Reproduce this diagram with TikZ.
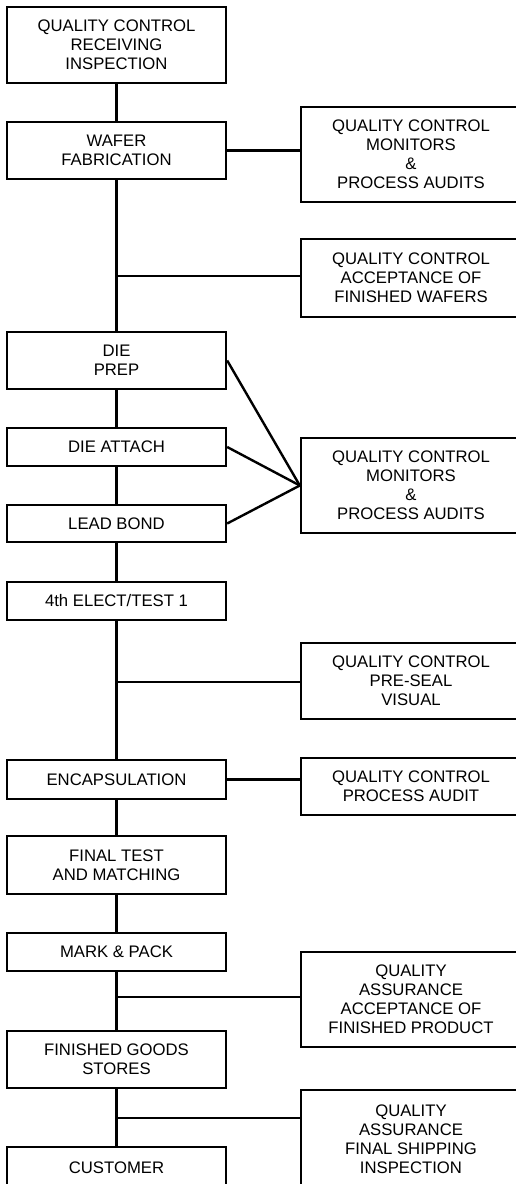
\documentclass[tikz,border=0pt]{standalone}
\usepackage{fontspec}
\setmainfont{Liberation Sans}

\begin{document}
\begin{tikzpicture}[x=1pt, y=-1pt, line width=2.4pt,
    font=\fontsize{16.7}{19}\selectfont,
    stage/.style={draw, minimum width=219pt, align=center, inner sep=0pt},
    qcbox/.style={draw, minimum width=220pt, align=center, inner sep=0pt}]
  \useasboundingbox (0,0) rectangle (516,1184);
  % Process stages (left column)
  \node[stage, minimum height=76pt] (recv) at (116.5,45) {QUALITY CONTROL\\RECEIVING\\INSPECTION};
  \node[stage, minimum height=57pt] (wafer) at (116.5,150.5) {WAFER\\FABRICATION};
  \node[stage, minimum height=57pt] (prep) at (116.5,360.5) {DIE\\PREP};
  \node[stage, minimum height=38pt] (attach) at (116.5,447) {DIE ATTACH};
  \node[stage, minimum height=37pt] (bond) at (116.5,523.5) {LEAD BOND};
  \node[stage, minimum height=38pt] (elect) at (116.5,601) {4th ELECT/TEST 1};
  \node[stage, minimum height=39pt] (encap) at (116.5,779.5) {ENCAPSULATION};
  \node[stage, minimum height=58pt] (final) at (116.5,865) {FINAL TEST\\AND MATCHING};
  \node[stage, minimum height=38pt] (pack) at (116.5,952) {MARK \& PACK};
  \node[stage, minimum height=57pt] (stores) at (116.5,1059.5) {FINISHED GOODS\\STORES};
  \node[stage, minimum height=42pt] (cust) at (116.5,1168) {CUSTOMER};
  % Quality checks (right column, running off the edge)
  \node[qcbox, minimum height=95pt] (mon1) at (411,154.5) {QUALITY CONTROL\\MONITORS\\\&\\PROCESS AUDITS};
  \node[qcbox, minimum height=78pt] (wafers) at (411,278) {QUALITY CONTROL\\ACCEPTANCE OF\\FINISHED WAFERS};
  \node[qcbox, minimum height=95pt] (mon2) at (411,485.5) {QUALITY CONTROL\\MONITORS\\\&\\PROCESS AUDITS};
  \node[qcbox, minimum height=76pt] (seal) at (411,681) {QUALITY CONTROL\\PRE-SEAL\\VISUAL};
  \node[qcbox, minimum height=57pt] (audit) at (411,786.5) {QUALITY CONTROL\\PROCESS AUDIT};
  \node[qcbox, minimum height=95pt] (product) at (411,999.5) {QUALITY\\ASSURANCE\\ACCEPTANCE OF\\FINISHED PRODUCT};
  \node[qcbox, minimum height=99pt] (ship) at (411,1139.5) {QUALITY\\ASSURANCE\\FINAL SHIPPING\\INSPECTION};
  % Main flow
  \draw (recv) -- (wafer) -- (prep) -- (attach) -- (bond) -- (elect) -- (encap)
    -- (final) -- (pack) -- (stores) -- (cust);
  % Branch points on the main flow
  \coordinate (j1) at (116.5,276);
  \coordinate (j2) at (116.5,682);
  \coordinate (j3) at (116.5,997);
  \coordinate (j4) at (116.5,1118);
  % Side connections
  \draw (wafer.east) -- (wafer.east -| mon1.west);
  \draw (j1) -- (j1 -| wafers.west);
  \draw (prep.east) -- (mon2.west);
  \draw (attach.east) -- (mon2.west);
  \draw (bond.east) -- (mon2.west);
  \draw (j2) -- (j2 -| seal.west);
  \draw (encap.east) -- (encap.east -| audit.west);
  \draw (j3) -- (j3 -| product.west);
  \draw (j4) -- (j4 -| ship.west);
\end{tikzpicture}
\end{document}
